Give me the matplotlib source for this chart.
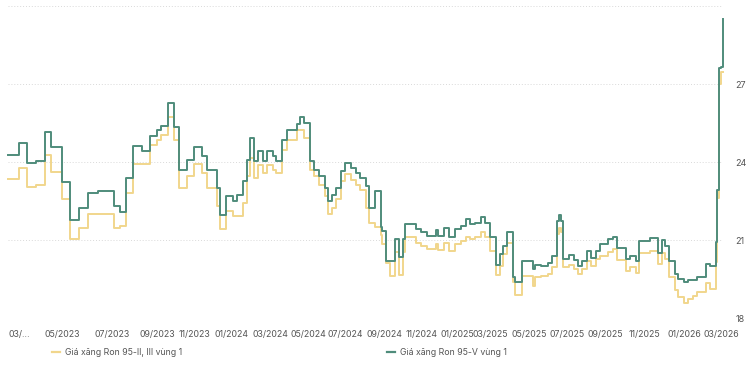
import matplotlib
matplotlib.use("Agg")
import matplotlib.pyplot as plt
from matplotlib.lines import Line2D

plt.rcParams['font.family'] = ['Inter', 'DejaVu Sans']

# price adjustment index where the price changes, and the new price (thousand VND / litre)
change_idx = [0, 6, 10, 15, 20, 23, 29, 33, 38, 43, 48, 57, 60, 63, 67, 72, 76, 80, 82, 86,
              89, 92, 96, 100, 104, 107, 112, 114, 117, 121, 123, 126, 128, 130, 132, 134, 137,
              139, 142, 144, 147, 150, 155, 157, 159, 162, 164, 167, 170, 172, 174, 176, 179,
              181, 184, 187, 189, 192, 194, 197, 200, 201, 203, 205, 208, 210, 212, 213, 219,
              222, 225, 230, 231, 234, 237, 240, 243, 246, 248, 251, 254, 256, 259, 262, 264,
              266, 268, 271, 272, 276, 282, 283, 286, 290, 292, 295, 296, 297, 298, 301, 304,
              306, 308, 311, 313, 316, 318, 322, 325, 327, 332, 334, 337, 339, 345, 349, 351,
              353, 355, 358, 360, 363, 365, 368, 370, 375, 377, 380, 381, 382, 383, 384]

ron95_v = [24.28, 24.72, 23.96, 24.05, 25.14, 24.56, 23.23, 21.77, 22.24, 22.82, 22.88, 22.31,
           22.09, 23.39, 24.60, 24.41, 25.01, 25.24, 25.40, 26.26, 25.36, 23.68, 24.09, 24.57,
           24.24, 23.68, 23.00, 21.95, 22.69, 22.50, 22.75, 23.26, 24.09, 24.94, 24.03, 24.41,
           24.05, 24.41, 24.22, 24.05, 24.85, 25.24, 25.45, 25.75, 25.49, 24.05, 23.71, 23.45,
           23.00, 22.50, 22.73, 23.00, 23.64, 23.96, 23.77, 23.58, 23.39, 23.07, 22.24, 22.88,
           21.50, 21.35, 20.18, 20.18, 21.03, 20.33, 21.03, 21.60, 21.41, 21.30, 21.17, 21.37,
           21.17, 21.48, 21.10, 21.41, 21.54, 21.80, 21.60, 21.67, 21.89, 21.67, 21.10, 20.05,
           20.45, 20.78, 21.29, 19.57, 19.38, 20.20, 19.89, 20.05, 20.00, 20.10, 20.40, 21.73,
           21.96, 21.73, 20.27, 20.43, 20.23, 20.01, 20.20, 20.56, 20.31, 20.59, 20.86, 21.02,
           21.10, 20.70, 20.27, 20.40, 20.20, 20.97, 21.07, 20.49, 21.00, 20.78, 20.20, 19.70,
           19.50, 19.38, 19.47, 19.47, 19.57, 20.08, 20.00, 20.93, 22.94, 27.60, 27.66, 29.50]

ron95_iii = [23.35, 23.77, 23.03, 23.10, 24.26, 23.62, 22.56, 21.03, 21.48, 21.99, 21.99, 21.48,
             21.55, 22.82, 23.94, 23.94, 24.66, 24.85, 25.04, 25.72, 24.85, 23.00, 23.45, 23.92,
             23.58, 23.00, 22.31, 21.41, 22.12, 21.93, 21.93, 22.43, 23.45, 24.15, 23.39, 23.90,
             23.58, 23.90, 23.71, 23.56, 24.47, 24.85, 25.24, 25.24, 24.94, 23.70, 23.45, 23.13,
             22.69, 22.01, 22.24, 22.56, 23.26, 23.54, 23.32, 23.13, 22.94, 22.24, 21.67, 21.50,
             21.20, 20.84, 20.10, 19.63, 20.52, 19.67, 20.52, 21.10, 20.90, 20.78, 20.65, 20.84,
             20.60, 20.90, 20.59, 20.84, 20.97, 21.12, 21.03, 21.10, 21.29, 21.10, 20.59, 19.67,
             20.00, 20.46, 20.90, 19.38, 18.87, 19.63, 19.25, 19.57, 19.60, 19.70, 19.95, 21.22,
             21.48, 21.29, 19.95, 20.05, 19.89, 19.70, 19.89, 20.18, 19.99, 20.27, 20.40, 20.52,
             20.65, 20.22, 19.79, 19.98, 19.72, 20.49, 20.59, 20.08, 20.49, 20.27, 19.57, 19.06,
             18.80, 18.57, 18.74, 18.83, 19.00, 19.34, 19.12, 20.14, 22.62, 27.00, 27.47, 27.47]

tick_pos = [6, 29, 56, 80, 100, 120, 141, 161, 181, 202, 222, 241, 259, 280, 300, 321, 342, 363, 383]
tick_labels = ['03/…', '05/2023', '07/2023', '09/2023', '11/2023', '01/2024', '03/2024',
               '05/2024', '07/2024', '09/2024', '11/2024', '01/2025', '03/2025', '05/2025',
               '07/2025', '09/2025', '11/2025', '01/2026', '03/2026']

c_iii = '#f1d68c'
c_v = '#4f8c7b'
txt = '#555555'

fig = plt.figure(figsize=(7.5, 3.75), dpi=100)
ax = fig.add_axes([0.011, 0.152, 0.953, 0.832])

ax.plot(change_idx, ron95_iii, drawstyle='steps-post', color=c_iii, lw=1.4, clip_on=False)
ax.plot(change_idx, ron95_v, drawstyle='steps-post', color=c_v, lw=1.4, clip_on=False)

ax.set_xlim(0, 384)
ax.set_ylim(18, 30)
ax.set_yticks([18, 21, 24, 27, 30])
ax.set_yticklabels(['18', '21', '24', '27', ''])
ax.yaxis.tick_right()
ax.tick_params(axis='y', length=0, pad=9, labelsize=6.5, labelcolor=txt)
ax.set_xticks(tick_pos)
ax.set_xticklabels(tick_labels)
ax.tick_params(axis='x', length=0, pad=9, labelsize=6.3, labelcolor=txt)
ax.grid(axis='y', color='#d9d9d9', linestyle=(0, (1, 2)), linewidth=0.7)
for s in ax.spines.values():
    s.set_visible(False)

# legend
fig.add_artist(Line2D([0.069, 0.08], [0.061, 0.061], color=c_iii, lw=1.6))
fig.text(0.087, 0.061, 'Giá xăng Ron 95-II, III vùng 1', fontsize=6.3, color=txt, va='center')
fig.add_artist(Line2D([0.516, 0.527], [0.061, 0.061], color=c_v, lw=1.6))
fig.text(0.533, 0.061, 'Giá xăng Ron 95-V vùng 1', fontsize=6.3, color=txt, va='center')

fig.savefig('out.png', dpi=100)
